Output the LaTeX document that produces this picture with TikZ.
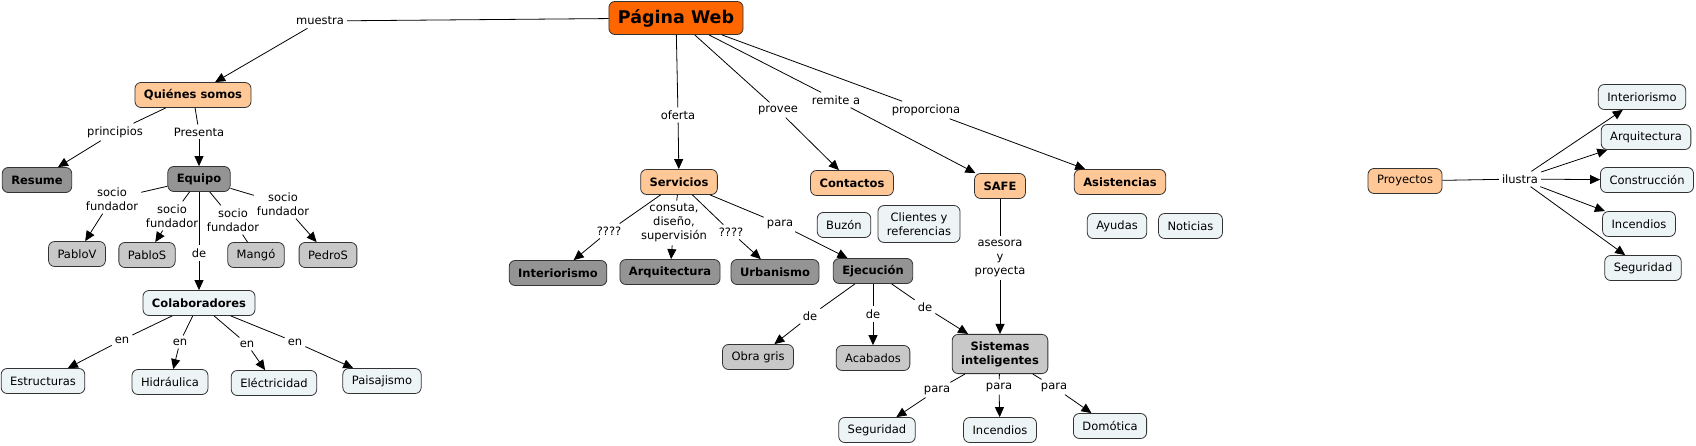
\documentclass[tikz,border=0pt]{standalone}
\usepackage{fontspec}
\setmainfont{DejaVu Sans}
\usepackage{tikz}
\usetikzlibrary{arrows.meta,%
                shapes,positioning}
\definecolor{webOrange}{RGB}{255,102,0}
\definecolor{peach}{RGB}{255,200,150}
\definecolor{darkGray}{RGB}{148,148,148}
\definecolor{midGray}{RGB}{200,200,200}
\definecolor{paleBlue}{RGB}{237,244,246}

\begin{document}
\begin{tikzpicture}[x = 1pt, y = -1pt]
  \useasboundingbox (0,0) rectangle (1696,446);
  \tikzset{ConceptStyle/.style = {shape           = rectangle,
                                  rounded corners = 6pt,
                                  draw            = black!80,
                                  line width      = 0.8pt,
                                  text            = black,
                                  font            = \fontsize{11.5}{14}\selectfont,
                                  align           = center,
                                  inner xsep      = 9pt,
                                  inner ysep      = 3pt,
                                  minimum height  = 25pt}}
  \tikzset{BoldStyle/.style    = {ConceptStyle,
                                  font            = \fontsize{11.5}{14}\selectfont\bfseries}}
  \tikzset{TitleStyle/.style   = {ConceptStyle,
                                  fill            = webOrange,
                                  font            = \fontsize{17.5}{20}\selectfont\bfseries,
                                  minimum height  = 33pt}}
  \tikzset{PeachStyle/.style   = {fill = peach},
           DarkStyle/.style    = {fill = darkGray},
           GrayStyle/.style    = {fill = midGray},
           PaleStyle/.style    = {fill = paleBlue},
           TallStyle/.style    = {inner ysep = 7pt}}
  \tikzset{LinkStyle/.style    = {font            = \fontsize{11.5}{14}\selectfont,
                                  align           = center,
                                  inner sep       = 3pt}}
  \tikzset{LineStyle/.style    = {draw            = black,
                                  line width      = 0.8pt}}
  \tikzset{ArrowStyle/.style   = {LineStyle,
                                  -{Triangle[length = 10pt, width = 9pt]}}}
  % concepts
  \node[TitleStyle](web) at (676,18) {Página Web};
  \node[BoldStyle,PeachStyle](quienes) at (193,95) {Quiénes somos};
  \node[BoldStyle,DarkStyle](resume) at (37,180) {Resume};
  \node[BoldStyle,DarkStyle](equipo) at (199,179) {Equipo};
  \node[ConceptStyle,GrayStyle](pabloV) at (77,254) {PabloV};
  \node[ConceptStyle,GrayStyle](pabloS) at (147,255) {PabloS};
  \node[ConceptStyle,GrayStyle](mango) at (256,255) {Mangó};
  \node[ConceptStyle,GrayStyle](pedroS) at (328,255) {PedroS};
  \node[BoldStyle,PaleStyle](colab) at (199,303) {Colaboradores};
  \node[ConceptStyle,PaleStyle](estruct) at (43,381) {Estructuras};
  \node[ConceptStyle,PaleStyle](hidra) at (170,382) {Hidráulica};
  \node[ConceptStyle,PaleStyle](electr) at (274,383) {Eléctricidad};
  \node[ConceptStyle,PaleStyle](paisaj) at (382,381) {Paisajismo};
  \node[BoldStyle,PeachStyle](servicios) at (679,182) {Servicios};
  \node[BoldStyle,PeachStyle](contactos) at (852,183) {Contactos};
  \node[BoldStyle,PeachStyle](safe) at (1000,186) {SAFE};
  \node[BoldStyle,PeachStyle](asist) at (1120,182) {Asistencias};
  \node[ConceptStyle,PaleStyle](buzon) at (844,225) {Buzón};
  \node[ConceptStyle,PaleStyle,TallStyle](clientes) at (919,224) {Clientes y\\referencias};
  \node[ConceptStyle,PaleStyle](ayudas) at (1117,226) {Ayudas};
  \node[ConceptStyle,PaleStyle,right=11pt of ayudas](noticias) {Noticias};
  \node[BoldStyle,DarkStyle](interior) at (558,273) {Interiorismo};
  \node[BoldStyle,DarkStyle](arquit) at (670,272) {Arquitectura};
  \node[BoldStyle,DarkStyle](urban) at (775,272) {Urbanismo};
  \node[BoldStyle,DarkStyle](ejec) at (873,271) {Ejecución};
  \node[ConceptStyle,GrayStyle](obra) at (758,357) {Obra gris};
  \node[ConceptStyle,GrayStyle](acab) at (873,358) {Acabados};
  \node[BoldStyle,GrayStyle,TallStyle](sistemas) at (1000,354) {Sistemas\\inteligentes};
  \node[ConceptStyle,PaleStyle](seguri) at (877,430) {Seguridad};
  \node[ConceptStyle,PaleStyle](incend) at (1000,430) {Incendios};
  \node[ConceptStyle,PaleStyle](domot) at (1110,426) {Domótica};
  \node[ConceptStyle,PeachStyle](proyectos) at (1405,181) {Proyectos};
  \node[ConceptStyle,PaleStyle](pInter) at (1642,97) {Interiorismo};
  \node[ConceptStyle,PaleStyle](pArq) at (1646,137) {Arquitectura};
  \node[ConceptStyle,PaleStyle](pConst) at (1647,180) {Construcción};
  \node[ConceptStyle,PaleStyle](pInc) at (1639,224) {Incendios};
  \node[ConceptStyle,PaleStyle](pSeg) at (1643,268) {Seguridad};
  % linking phrases
  \node[LinkStyle](lMuestra) at (320,21) {muestra};
  \node[LinkStyle](lPrincipios) at (115,132) {principios};
  \node[LinkStyle](lPresenta) at (199,132) {Presenta};
  \node[LinkStyle](lSocioA) at (112,199) {socio\\fundador};
  \node[LinkStyle](lSocioB) at (172,216) {socio\\fundador};
  \node[LinkStyle](lDe) at (199,253) {de};
  \node[LinkStyle](lSocioC) at (233,220) {socio\\fundador};
  \node[LinkStyle](lSocioD) at (283,204) {socio\\fundador};
  \node[LinkStyle](lEnA) at (122,340) {en};
  \node[LinkStyle](lEnB) at (180,342) {en};
  \node[LinkStyle](lEnC) at (247,344) {en};
  \node[LinkStyle](lEnD) at (295,342) {en};
  \node[LinkStyle](lOferta) at (678,115) {oferta};
  \node[LinkStyle](lProvee) at (778,110) {provee};
  \node[LinkStyle](lRemite) at (836,100) {remite a};
  \node[LinkStyle](lProporciona) at (926,110) {proporciona};
  \node[LinkStyle](lQA) at (609,231) {????};
  \node[LinkStyle](lConsuta) at (674,223) {consuta,\\diseño,\\supervisión};
  \node[LinkStyle](lQB) at (731,232) {????};
  \node[LinkStyle](lPara) at (780,224) {para};
  \node[LinkStyle](lDeA) at (810,316) {de};
  \node[LinkStyle](lDeB) at (873,314) {de};
  \node[LinkStyle](lDeC) at (925,307) {de};
  \node[LinkStyle](lAsesora) at (1000,258) {asesora\\y\\proyecta};
  \node[LinkStyle](lParaA) at (937,390) {para};
  \node[LinkStyle](lParaB) at (999,387) {para};
  \node[LinkStyle](lParaC) at (1054,387) {para};
  \node[LinkStyle](lIlustra) at (1520,179) {ilustra};
  % connectors
  \draw[LineStyle](web) -- (lMuestra);
  \draw[ArrowStyle](lMuestra) -- (quienes);
  \draw[LineStyle](quienes) -- (lPrincipios);
  \draw[ArrowStyle](lPrincipios) -- (resume);
  \draw[LineStyle](quienes) -- (lPresenta);
  \draw[ArrowStyle](lPresenta) -- (equipo);
  \draw[LineStyle](equipo) -- (lSocioA);
  \draw[ArrowStyle](lSocioA) -- (pabloV);
  \draw[LineStyle](equipo) -- (lSocioB);
  \draw[ArrowStyle](lSocioB) -- (pabloS);
  \draw[LineStyle](equipo) -- (lDe);
  \draw[ArrowStyle](lDe) -- (colab);
  \draw[LineStyle](equipo) -- (lSocioC);
  \draw[LineStyle](lSocioC) -- (mango);
  \draw[LineStyle](equipo) -- (lSocioD);
  \draw[ArrowStyle](lSocioD) -- (pedroS);
  \draw[LineStyle](colab) -- (lEnA);
  \draw[ArrowStyle](lEnA) -- (estruct);
  \draw[LineStyle](colab) -- (lEnB);
  \draw[ArrowStyle](lEnB) -- (hidra);
  \draw[LineStyle](colab) -- (lEnC);
  \draw[ArrowStyle](lEnC) -- (electr);
  \draw[LineStyle](colab) -- (lEnD);
  \draw[ArrowStyle](lEnD) -- (paisaj);
  \draw[LineStyle](web) -- (lOferta);
  \draw[ArrowStyle](lOferta) -- (servicios);
  \draw[LineStyle](web) -- (lProvee);
  \draw[ArrowStyle](lProvee) -- (contactos);
  \draw[LineStyle](web) -- (lRemite);
  \draw[ArrowStyle](lRemite) -- (safe);
  \draw[LineStyle](web) -- (lProporciona);
  \draw[ArrowStyle](lProporciona) -- (asist);
  \draw[LineStyle](servicios) -- (lQA);
  \draw[ArrowStyle](lQA) -- (interior);
  \draw[LineStyle](servicios) -- (lConsuta);
  \draw[ArrowStyle](lConsuta) -- (arquit);
  \draw[LineStyle](servicios) -- (lQB);
  \draw[ArrowStyle](lQB) -- (urban);
  \draw[LineStyle](servicios) -- (lPara);
  \draw[ArrowStyle](lPara) -- (ejec);
  \draw[LineStyle](ejec) -- (lDeA);
  \draw[ArrowStyle](lDeA) -- (obra);
  \draw[LineStyle](ejec) -- (lDeB);
  \draw[ArrowStyle](lDeB) -- (acab);
  \draw[LineStyle](ejec) -- (lDeC);
  \draw[ArrowStyle](lDeC) -- (sistemas);
  \draw[LineStyle](safe) -- (lAsesora);
  \draw[ArrowStyle](lAsesora) -- (sistemas);
  \draw[LineStyle](sistemas) -- (lParaA);
  \draw[ArrowStyle](lParaA) -- (seguri);
  \draw[LineStyle](sistemas) -- (lParaB);
  \draw[ArrowStyle](lParaB) -- (incend);
  \draw[LineStyle](sistemas) -- (lParaC);
  \draw[ArrowStyle](lParaC) -- (domot);
  \draw[LineStyle](proyectos) -- (lIlustra);
  \foreach \t in {pInter,pArq,pConst,pInc,pSeg}
    \draw[ArrowStyle](lIlustra) -- (\t);
\end{tikzpicture}
\end{document}
